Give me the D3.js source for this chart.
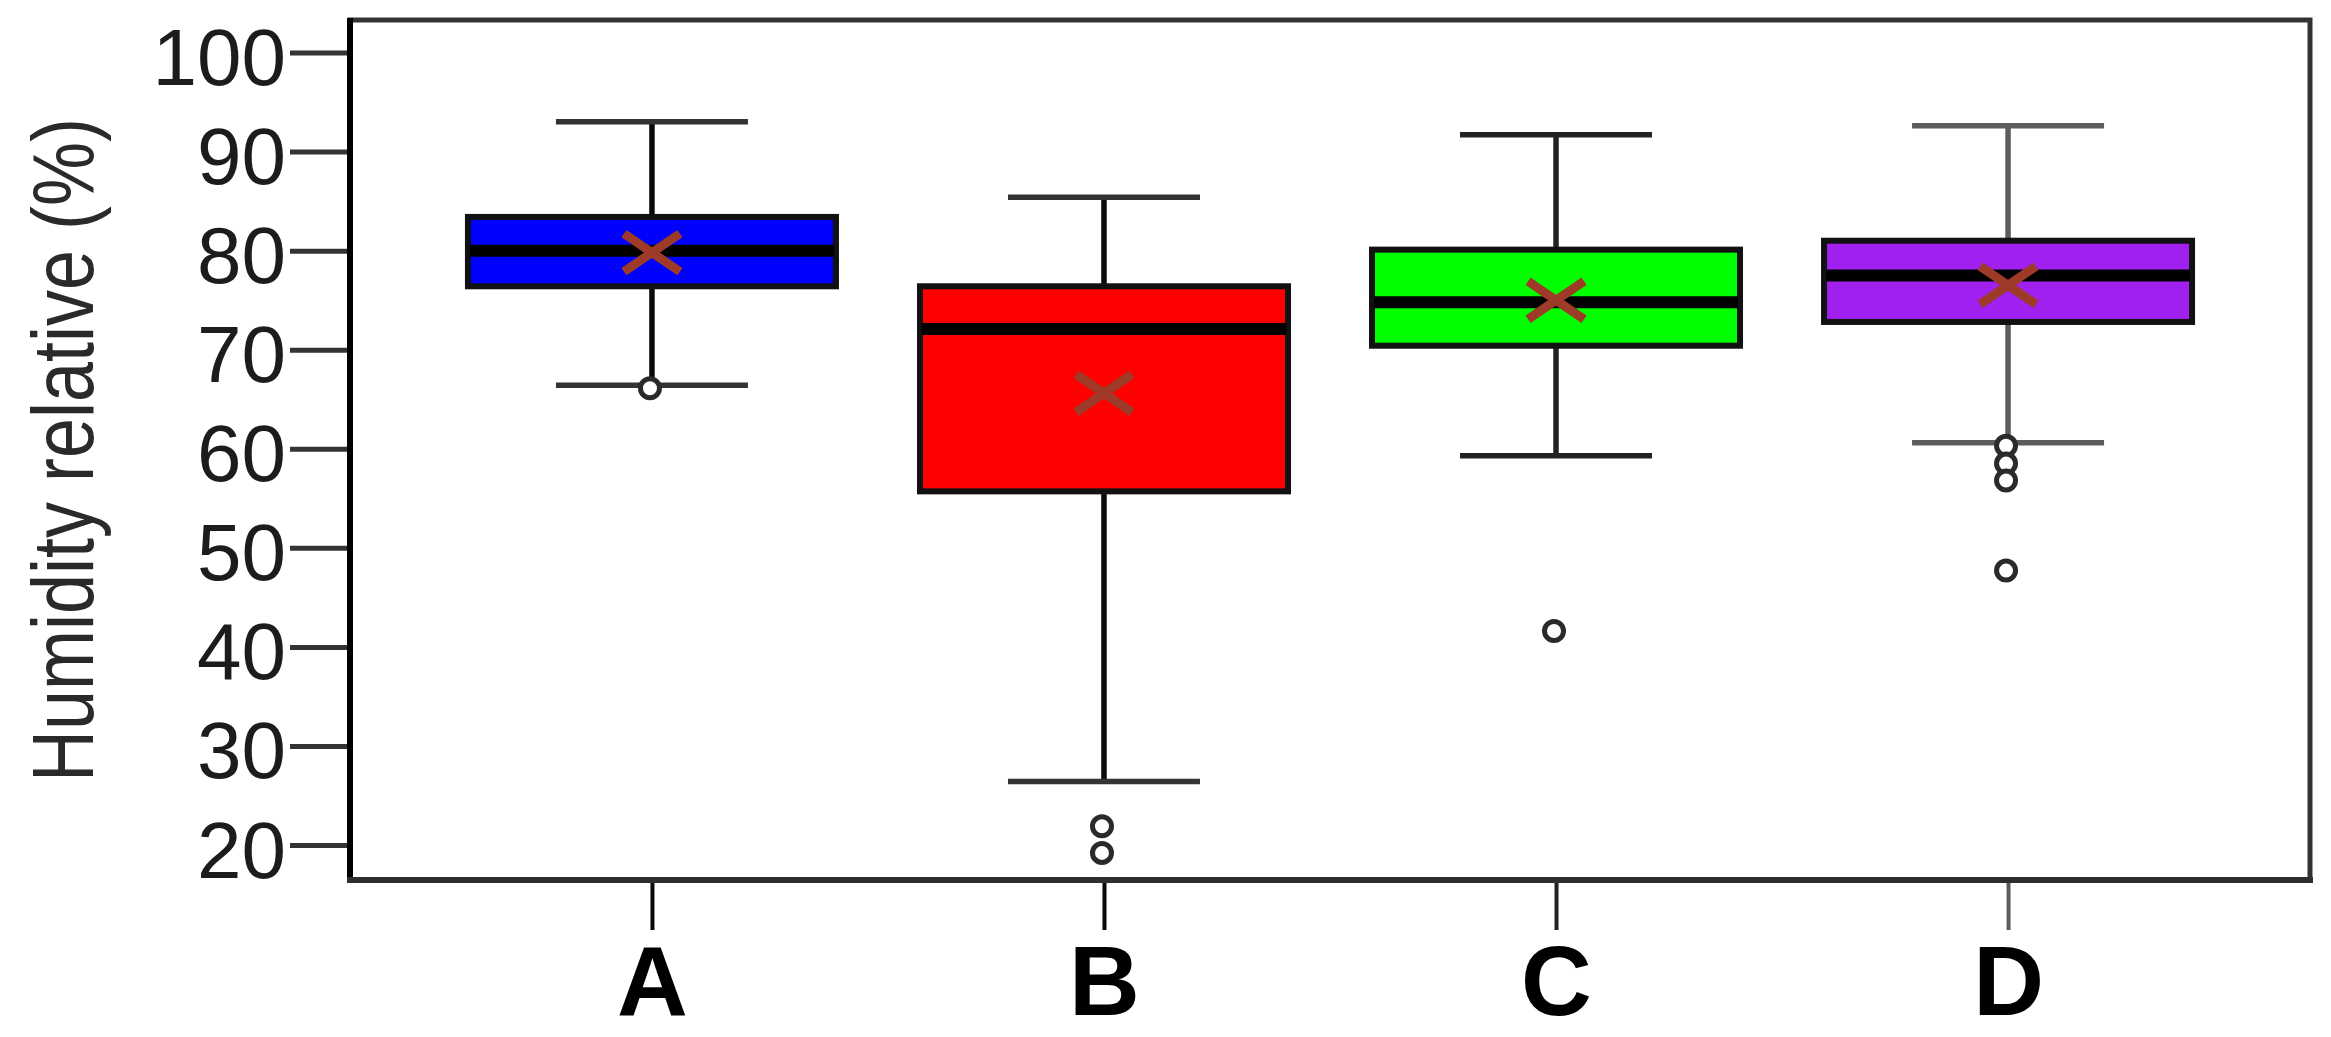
<!DOCTYPE html>
<html>
<head>
<meta charset="utf-8">
<script src="https://cdn.jsdelivr.net/npm/d3@7"></script>
<style>
  html, body { margin: 0; padding: 0; background: #ffffff; }
  svg { display: block; }
</style>
</head>
<body>
<svg id="chart" width="2331" height="1037"></svg>
<script>
// ---- Data ----
const categories = ["A", "B", "C", "D"];
const whiskerHigh = [93.0, 85.4, 91.7, 92.6];
const q3 = [83.4, 76.4, 80.1, 81.0];
const median = [80.0, 72.1, 74.8, 77.5];
const q1 = [76.4, 55.7, 70.4, 72.8];
const whiskerLow = [66.4, 26.4, 59.3, 60.6];
const means = [79.8, 65.6, 75.0, 76.5];
const outliersA = [66.1];
const outliersB = [21.9, 19.2];
const outliersC = [41.6];
const outliersD = [60.3, 58.5, 56.8, 47.7];
const outliers = [outliersA, outliersB, outliersC, outliersD];
const fillColors = ["#0000ff", "#ff0000", "#00ff00", "#a020f0"];
const whiskerColors = ["#0a0a0a", "#0a0a0a", "#222222", "#5c5c5c"];
const yTicks = [20, 30, 40, 50, 60, 70, 80, 90, 100];
const yTitle = "Humidity relative (%)";

// ---- Layout ----
const frame = { left: 350, right: 2310, top: 20, bottom: 880 };
const svg = d3.select("#chart");

const x = d3.scalePoint()
  .domain(categories)
  .range([frame.left, frame.right])
  .padding(0.668);

const y = d3.scaleLinear()
  .domain([20, 100])
  .range([845, 52.5]);

const boxW = 368;
const capW = 192;

const rows = categories.map((c, i) => ({
  cat: c, hi: whiskerHigh[i], q3: q3[i], med: median[i], q1: q1[i],
  lo: whiskerLow[i], mean: means[i], out: outliers[i],
  fill: fillColors[i], wc: whiskerColors[i]
}));

// ---- Frame ----
svg.append("rect")
  .attr("x", frame.left).attr("y", frame.top)
  .attr("width", frame.right - frame.left)
  .attr("height", frame.bottom - frame.top)
  .attr("fill", "none")
  .attr("stroke", "#333333")
  .attr("stroke-width", 5);

// ---- Y axis ----
const yAxis = svg.append("g")
  .attr("transform", `translate(${frame.left},0)`)
  .call(d3.axisLeft(y).tickValues(yTicks).tickSize(60).tickPadding(4));
yAxis.select(".domain").remove();
yAxis.selectAll(".tick line").attr("stroke", "#333333").attr("stroke-width", 5);
yAxis.selectAll(".tick text")
  .attr("font-family", "Liberation Sans, Arial, sans-serif")
  .attr("font-size", 80)
  .attr("fill", "#1c1c1c")
  .attr("dy", "0.40em");

svg.append("line")
  .attr("x1", frame.left).attr("x2", frame.left)
  .attr("y1", frame.top - 2).attr("y2", frame.bottom + 3)
  .attr("stroke", "#000000").attr("stroke-width", 6);

// ---- X axis ----
const xAxis = svg.append("g")
  .attr("transform", `translate(0,${frame.bottom})`)
  .call(d3.axisBottom(x).tickSize(50).tickPadding(15));
xAxis.select(".domain").remove();
xAxis.selectAll(".tick line")
  .attr("stroke", (d, i) => whiskerColors[i])
  .attr("stroke-width", 4);
xAxis.selectAll(".tick text")
  .attr("font-family", "Liberation Sans, Arial, sans-serif")
  .attr("font-size", 98)
  .attr("font-weight", "bold")
  .attr("fill", "#000000");

svg.append("line")
  .attr("x1", frame.left - 3).attr("x2", frame.right + 3)
  .attr("y1", frame.bottom).attr("y2", frame.bottom)
  .attr("stroke", "#2e2e2e").attr("stroke-width", 6);

// ---- Y title ----
svg.append("text")
  .attr("transform", `translate(93,450) rotate(-90) scale(1,1.2)`)
  .attr("text-anchor", "middle")
  .attr("font-family", "Liberation Sans, Arial, sans-serif")
  .attr("font-size", 72)
  .attr("fill", "#2a2a2a")
  .text(yTitle);

// ---- Boxes ----
const g = svg.append("g");
const box = g.selectAll("g.box").data(rows).enter().append("g").attr("class", "box");

// whiskers
box.append("line")
  .attr("x1", d => x(d.cat)).attr("x2", d => x(d.cat))
  .attr("y1", d => y(d.hi)).attr("y2", d => y(d.q3))
  .attr("stroke", d => d.wc).attr("stroke-width", 5.5);
box.append("line")
  .attr("x1", d => x(d.cat)).attr("x2", d => x(d.cat))
  .attr("y1", d => y(d.q1)).attr("y2", d => y(d.lo))
  .attr("stroke", d => d.wc).attr("stroke-width", 5.5);
// caps
box.append("line")
  .attr("x1", d => x(d.cat) - capW / 2).attr("x2", d => x(d.cat) + capW / 2)
  .attr("y1", d => y(d.hi)).attr("y2", d => y(d.hi))
  .attr("stroke", d => d.wc === "#0a0a0a" ? "#333333" : d.wc).attr("stroke-width", 5.5);
box.append("line")
  .attr("x1", d => x(d.cat) - capW / 2).attr("x2", d => x(d.cat) + capW / 2)
  .attr("y1", d => y(d.lo)).attr("y2", d => y(d.lo))
  .attr("stroke", d => d.wc === "#0a0a0a" ? "#333333" : d.wc).attr("stroke-width", 5.5);

// box rect
box.append("rect")
  .attr("x", d => x(d.cat) - boxW / 2)
  .attr("width", boxW)
  .attr("y", d => y(d.q3))
  .attr("height", d => y(d.q1) - y(d.q3))
  .attr("fill", d => d.fill)
  .attr("stroke", "#111111")
  .attr("stroke-width", 6);

// median
box.append("line")
  .attr("x1", d => x(d.cat) - boxW / 2 + 2).attr("x2", d => x(d.cat) + boxW / 2 - 2)
  .attr("y1", d => y(d.med)).attr("y2", d => y(d.med))
  .attr("stroke", "#000000").attr("stroke-width", 12);

// outliers
box.each(function(d) {
  d3.select(this).selectAll("circle.out").data(d.out).enter().append("circle")
    .attr("class", "out")
    .attr("cx", x(d.cat) - 2)
    .attr("cy", v => y(v))
    .attr("r", 9.5)
    .attr("fill", "#ffffff")
    .attr("stroke", "#2a2a2a")
    .attr("stroke-width", 5);
});

// mean markers (X)
const mw = 28, mh = 19;
box.append("path")
  .attr("d", d => {
    const cx = x(d.cat), cy = y(d.mean);
    return `M${cx - mw},${cy - mh}L${cx + mw},${cy + mh}M${cx - mw},${cy + mh}L${cx + mw},${cy - mh}`;
  })
  .attr("stroke", "#9e3a28")
  .attr("stroke-width", 9)
  .attr("fill", "none");
</script>
</body>
</html>
